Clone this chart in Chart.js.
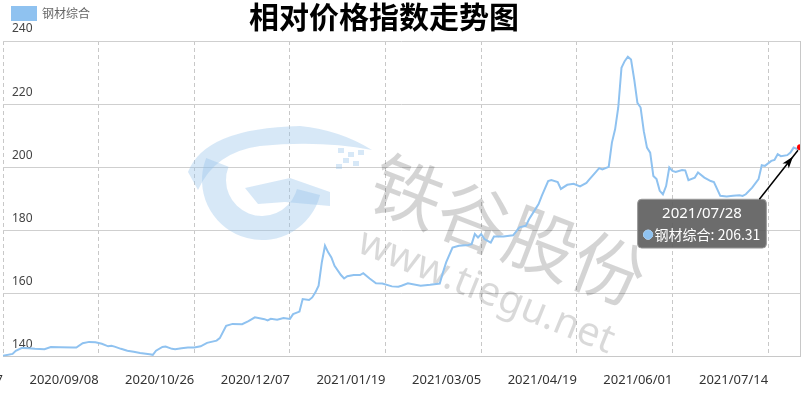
<!DOCTYPE html>
<html>
<head>
<meta charset="utf-8">
<script src="https://cdn.jsdelivr.net/npm/chart.js@4.4.0/dist/chart.umd.min.js"></script>
<style>
  html, body { margin: 0; padding: 0; background: #fff; }
  #wrap { width: 803px; height: 404px; }
</style>
</head>
<body>
<div id="wrap"><canvas id="priceChart"></canvas></div>
<script>
// 图表数据 (交易日序号 / 指数值)
const dayIdx = [0, 3, 4, 6, 8, 10, 13, 15, 18, 22, 23, 25, 27, 29, 31, 33, 34, 35, 37, 39,
    41, 43, 46, 47, 48, 50, 51, 53, 54, 56, 58, 60, 62, 64, 67, 68, 70, 72, 75, 77,
    79, 82, 83, 84, 86, 88, 90, 91, 93, 94, 96, 97, 98, 99, 100, 101, 102, 103, 104, 106,
    107, 108, 110, 112, 113, 115, 117, 119, 122, 124, 125, 127, 131, 134, 137, 138, 139, 141, 143, 146,
    147, 148, 149, 150, 151, 153, 154, 157, 160, 162, 164, 165, 167, 168, 169, 171, 172, 174, 175, 177,
    179, 181, 183, 184, 186, 187, 188, 190, 191, 192, 193, 194, 195, 196, 197, 198, 199, 200, 201, 202,
    203, 204, 205, 206, 207, 208, 209, 210, 211, 213, 214, 215, 217, 218, 220, 222, 223, 225, 227, 229,
    231, 232, 233, 235, 237, 238, 239, 241, 242, 243, 244, 246, 247, 248, 249, 250];
const steelValues = [140.2, 140.8, 141.8, 142.7, 142.6, 142.4, 142.3, 143.0, 142.9, 142.8, 142.8, 144.2, 144.6, 144.5, 144.0, 143.2, 143.4, 143.1, 142.4, 141.8,
    141.5, 141.1, 140.7, 140.5, 141.8, 143.0, 143.1, 142.4, 142.3, 142.6, 142.8, 142.8, 143.2, 144.3, 145.0, 145.8, 149.7, 150.3, 150.2, 151.2,
    152.4, 151.8, 151.4, 151.9, 151.6, 152.2, 151.9, 153.4, 154.2, 158.2, 157.9, 158.7, 160.3, 162.4, 169.8, 175.1, 173.0, 171.4, 168.7, 165.8,
    164.7, 165.4, 165.8, 165.8, 166.4, 164.7, 163.2, 163.1, 162.2, 162.1, 162.4, 163.2, 162.4, 162.7, 163.1, 166.6, 169.8, 174.5, 175.1, 175.3,
    175.6, 178.8, 177.7, 178.8, 177.2, 176.1, 178.0, 178.0, 178.4, 180.9, 181.4, 183.5, 186.7, 188.3, 190.9, 195.6, 195.9, 195.3, 193.1, 194.4,
    194.7, 193.9, 195.0, 196.2, 198.5, 199.7, 199.3, 200.1, 207.8, 212.0, 219.0, 231.5, 233.6, 235.0, 234.1, 227.8, 220.4, 218.9, 211.4, 206.2,
    204.6, 197.2, 196.2, 192.5, 191.4, 194.0, 199.9, 198.8, 198.5, 199.1, 199.0, 195.9, 196.7, 198.3, 196.7, 195.6, 195.3, 190.9, 190.7, 190.9,
    191.1, 190.9, 191.4, 193.5, 196.2, 200.6, 200.4, 202.0, 202.3, 204.1, 203.5, 203.8, 204.6, 206.2, 205.8, 206.31];

// x轴刻度
const tickDays = [0, 30, 60, 90, 120, 150, 180, 210, 240];
const tickLabels = ['2020/07/27', '2020/09/08', '2020/10/26', '2020/12/07', '2021/01/19',
    '2021/03/05', '2021/04/19', '2021/06/01', '2021/07/14'];
const lastDate = '2021/07/28';

const lineBlue = '#8fc2f0';
const lastIdx = steelValues.length - 1;

// 提示框位置: 最后一个点的左下方
Chart.Tooltip.positioners.belowLeft = function (items) {
    if (!items.length) return false;
    const el = items[0].element;
    return { x: el.x - 98, y: el.y + 52, xAlign: 'center', yAlign: 'top' };
};

// 标题 + 水印 + 箭头
const decoPlugin = {
    id: 'deco',
    afterLayout(chart) {
        // 图例往左上挪一点
        chart.legend.top -= 11;
        chart.legend.bottom -= 11;
        chart.legend.left += 2;
        chart.legend.right += 2;
    },
    beforeDatasetsDraw(chart) {
        const ctx = chart.ctx;
        const area = chart.chartArea;
        ctx.save();
        // 右边框
        ctx.strokeStyle = '#c8c8c8';
        ctx.lineWidth = 1;
        ctx.beginPath();
        ctx.moveTo(Math.round(area.right) + 0.5, area.top);
        ctx.lineTo(Math.round(area.right) + 0.5, area.bottom);
        ctx.stroke();

        // logo 水印
        ctx.fillStyle = 'rgba(150,195,235,0.38)';
        ctx.beginPath();
        ctx.arc(262, 180, 60, Math.PI * 0.08, Math.PI * 1.12, false);
        ctx.arc(262, 180, 36, Math.PI * 1.12, Math.PI * 0.08, true);
        ctx.closePath();
        ctx.fill();
        ctx.beginPath();
        ctx.moveTo(188, 172);
        ctx.quadraticCurveTo(205, 128, 300, 126);
        ctx.quadraticCurveTo(340, 130, 372, 150);
        ctx.quadraticCurveTo(320, 140, 260, 146);
        ctx.quadraticCurveTo(215, 152, 198, 190);
        ctx.closePath();
        ctx.fill();
        ctx.beginPath();
        ctx.moveTo(245, 188);
        ctx.lineTo(290, 178);
        ctx.lineTo(330, 192);
        ctx.lineTo(330, 206);
        ctx.lineTo(285, 202);
        ctx.lineTo(258, 204);
        ctx.closePath();
        ctx.fill();
        [[338, 148], [348, 152], [358, 150], [343, 158], [353, 161], [336, 164]].forEach(function (s) {
            ctx.fillRect(s[0], s[1], 6, 5);
        });

        // 文字水印
        ctx.fillStyle = 'rgba(0,0,0,0.17)';
        ctx.textAlign = 'center';
        ctx.textBaseline = 'middle';
        ctx.save();
        ctx.translate(508, 230);
        ctx.rotate(21 * Math.PI / 180);
        ctx.font = '72px "Noto Sans CJK SC"';
        ctx.fillText('铁谷股份', 0, 0);
        ctx.restore();
        ctx.save();
        ctx.translate(486, 292);
        ctx.rotate(22 * Math.PI / 180);
        ctx.fillStyle = 'rgba(0,0,0,0.15)';
        ctx.font = '40px "Noto Sans"';
        ctx.fillText('www.tiegu.net', 0, 0);
        ctx.restore();
        ctx.restore();
    },
    afterDraw(chart) {
        const ctx = chart.ctx;
        ctx.save();
        // 标题
        ctx.fillStyle = '#000';
        ctx.font = 'bold 30px "Noto Sans CJK SC"';
        ctx.textAlign = 'center';
        ctx.textBaseline = 'middle';
        ctx.fillText('相对价格指数走势图', 384, 17);

        // 箭头
        const tip = chart.tooltip;
        const pt = chart.getDatasetMeta(0).data[lastIdx];
        if (tip && tip.opacity > 0 && pt) {
            const sx = tip.x + tip.width - 7, sy = tip.y;
            const ex = pt.x - 2, ey = pt.y + 3;
            const ang = Math.atan2(ey - sy, ex - sx);
            ctx.strokeStyle = '#000';
            ctx.fillStyle = '#000';
            ctx.lineWidth = 1.5;
            ctx.beginPath();
            ctx.moveTo(sx, sy);
            ctx.lineTo(ex, ey);
            ctx.stroke();
            const hx = ex - Math.cos(ang) * 8, hy = ey - Math.sin(ang) * 8;
            ctx.beginPath();
            ctx.moveTo(hx, hy);
            ctx.lineTo(hx - Math.cos(ang) * 12 + Math.sin(ang) * 4, hy - Math.sin(ang) * 12 - Math.cos(ang) * 4);
            ctx.lineTo(hx - Math.cos(ang) * 9, hy - Math.sin(ang) * 9);
            ctx.lineTo(hx - Math.cos(ang) * 12 - Math.sin(ang) * 4, hy - Math.sin(ang) * 12 + Math.cos(ang) * 4);
            ctx.closePath();
            ctx.fill();
        }
        ctx.restore();
    }
};

const chart = new Chart(document.getElementById('priceChart'), {
    type: 'line',
    data: {
        datasets: [{
            label: '钢材综合',
            data: dayIdx.map((d, i) => ({ x: d, y: steelValues[i] })),
            borderColor: lineBlue,
            backgroundColor: lineBlue,
            borderWidth: 2,
            fill: false,
            tension: 0,
            pointRadius: ctx => ctx.dataIndex === lastIdx ? 3 : 0,
            pointHoverRadius: ctx => ctx.dataIndex === lastIdx ? 3 : 0,
            pointBackgroundColor: 'red',
            pointBorderColor: 'red',
            pointBorderWidth: 0
        }]
    },
    options: {
        responsive: true,
        maintainAspectRatio: false,
        animation: false,
        events: [],
        layout: { padding: { top: 8, right: 2, bottom: 0, left: 0 } },
        scales: {
            x: {
                type: 'linear',
                min: 0,
                max: 250,
                afterBuildTicks: scale => { scale.ticks = tickDays.map(v => ({ value: v })); },
                afterFit: scale => { scale.paddingLeft = 0; scale.paddingRight = 0; },
                grid: { color: '#c8c8c8', drawTicks: false, lineWidth: 1 },
                border: { display: true, color: '#c8c8c8', dash: [4, 3] },
                ticks: {
                    autoSkip: false,
                    maxRotation: 0,
                    align: 'end',
                    padding: 16,
                    color: '#333',
                    font: { family: '"Noto Sans"', size: 13 },
                    callback: value => tickLabels[tickDays.indexOf(value)]
                }
            },
            y: {
                min: 140,
                max: 240,
                afterFit: scale => { scale.width = 1; },
                grid: { color: '#cfcfcf', drawTicks: false, lineWidth: 1 },
                border: { display: false },
                ticks: {
                    stepSize: 20,
                    mirror: true,
                    padding: 9,
                    labelOffset: -12,
                    color: '#444',
                    font: { family: '"Noto Sans"', size: 12 }
                }
            }
        },
        plugins: {
            legend: {
                position: 'top',
                align: 'start',
                labels: {
                    boxWidth: 24,
                    boxHeight: 13,
                    padding: 10,
                    color: '#666',
                    font: { family: '"Noto Sans CJK SC"', size: 12 }
                }
            },
            title: { display: false },
            tooltip: {
                enabled: true,
                position: 'belowLeft',
                backgroundColor: 'rgba(95,95,95,0.92)',
                borderColor: '#9a9a9a',
                borderWidth: 1,
                cornerRadius: 4,
                caretSize: 0,
                caretPadding: 0,
                padding: { x: 6, y: 5 },
                titleAlign: 'center',
                titleColor: '#fff',
                bodyColor: '#fff',
                titleMarginBottom: 4,
                titleFont: { family: '"Noto Sans"', size: 15, weight: 'normal' },
                bodyFont: { family: '"Noto Sans CJK SC", "Noto Sans"', size: 14 },
                displayColors: true,
                usePointStyle: true,
                boxWidth: 9,
                boxHeight: 9,
                callbacks: {
                    title: () => lastDate,
                    label: item => item.dataset.label + ': ' + steelValues[item.dataIndex],
                    labelPointStyle: () => ({ pointStyle: 'circle', rotation: 0 }),
                    labelColor: () => ({ borderColor: lineBlue, backgroundColor: lineBlue, borderWidth: 0 })
                }
            }
        }
    },
    plugins: [decoPlugin]
});

chart.tooltip.setActiveElements([{ datasetIndex: 0, index: lastIdx }], { x: 0, y: 0 });
chart.update();
</script>
</body>
</html>
